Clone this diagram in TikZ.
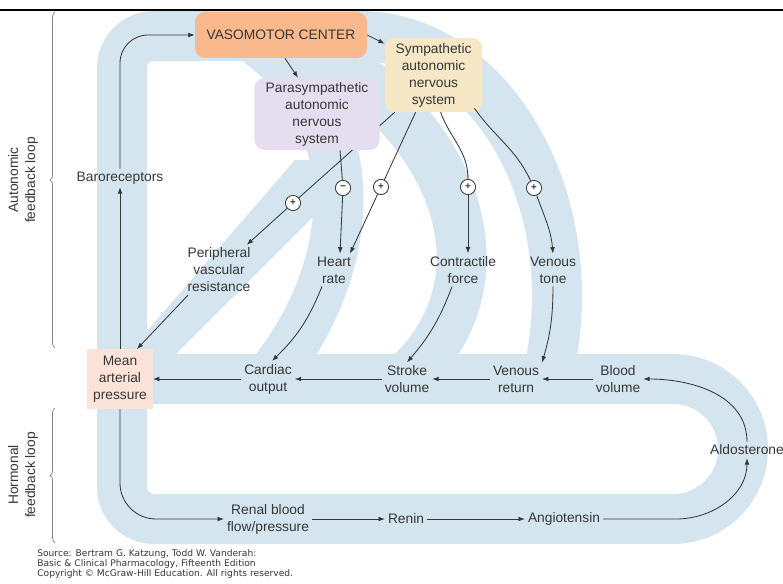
\documentclass[tikz,border=0pt]{standalone}
\usepackage{fontspec}
\setmainfont{Liberation Sans}
\newfontfamily\srcfont{DejaVu Sans}
\usepackage{tikz}
\usetikzlibrary{arrows.meta,positioning,calc,decorations.pathreplacing}

\definecolor{bandblue}{RGB}{212,229,240}
\definecolor{vasoorange}{RGB}{249,185,140}
\definecolor{symyellow}{RGB}{246,232,198}
\definecolor{paralilac}{RGB}{229,222,240}
\definecolor{mappink}{RGB}{252,227,218}
\definecolor{inkgray}{RGB}{55,55,55}

\pgfdeclarelayer{bands}
\pgfdeclarelayer{under}
\pgfsetlayers{bands,under,main}

\begin{document}
\begin{tikzpicture}[
    lbl/.style={align=center,font=\fontsize{9.8}{12.1}\selectfont,text=inkgray,inner sep=2pt},
    box/.style={lbl,rounded corners=2.5mm},
    sign/.style={circle,draw=inkgray,fill=white,line width=0.6pt,minimum size=3.8mm,inner sep=0pt,font=\scriptsize\bfseries,text=inkgray},
    band/.style={draw=bandblue,line width=1.25cm},
    link/.style={draw=inkgray,line width=0.6pt},
    arrow/.style={link,-{Latex[length=1.6mm,width=1.2mm]}},
    curly/.style={draw=gray,line width=0.5pt,decorate,decoration={brace,amplitude=1.2mm}}
]
    \useasboundingbox (0,0) rectangle (19.575,14.575);
    \draw[line width=1.2pt] (0,14.325) -- (19.575,14.325);

    % Control centers
    \node[box,fill=vasoorange,minimum width=4.3cm,minimum height=1.15cm] (vaso) at (7.025,13.7) {VASOMOTOR CENTER};
    \node[box,fill=symyellow,minimum width=2.43cm,minimum height=1.85cm] (sym) at (10.84,12.7) {Sympathetic\\autonomic\\nervous\\system};
    \node[box,fill=paralilac,minimum width=3.13cm,minimum height=1.8cm] (para) at (7.925,11.725) {Parasympathetic\\autonomic\\nervous\\system};

    % Effectors
    \node[lbl] (baro) at (3.0,10.125) {Baroreceptors};
    \node[lbl] (pvr) at (5.475,7.825) {Peripheral\\vascular\\resistance};
    \node[lbl] (hr) at (8.35,7.825) {Heart\\rate};
    \node[lbl] (cf) at (11.575,7.825) {Contractile\\force};
    \node[lbl] (vt) at (13.825,7.825) {Venous\\tone};

    % Middle row
    \node[box,fill=mappink,rounded corners=0pt,minimum width=1.63cm,minimum height=1.48cm] (map) at (3.0,5.1) {Mean\\arterial\\pressure};
    \node[lbl] (co) at (6.7,5.1) {Cardiac\\output};
    \node[lbl] (sv) at (10.175,5.1) {Stroke\\volume};
    \node[lbl] (vr) at (12.9,5.1) {Venous\\return};
    \node[lbl] (bv) at (15.45,5.1) {Blood\\volume};

    % Hormonal row
    \node[lbl] (ald) at (18.675,3.325) {Aldosterone};
    \node[lbl] (renal) at (6.7,1.6) {Renal blood\\flow/pressure};
    \node[lbl] (renin) at (10.15,1.6) {Renin};
    \node[lbl] (ang) at (14.1,1.6) {Angiotensin};

    % Signs
    \foreach \n/\x/\y/\s in {ppvr/7.325/9.5/+, mhr/8.575/9.875/−, phr/9.525/9.9/+, pcf/11.7/9.9/+, pvt/13.35/9.875/+} {
        \node[sign] (\n) at (\x,\y) {\s};
    }

    % Braces
    \draw[curly] (1.375,5.875) -- (1.375,14.275);
    \node[lbl,rotate=90] (auto) at (0.575,10.075) {Autonomic\\feedback loop};
    \draw[curly] (1.375,1.0) -- (1.375,4.375);
    \node[lbl,rotate=90] (horm) at (0.575,2.7) {Hormonal\\feedback loop};

    % Source
    \node[anchor=north west,align=left,inner sep=0pt,font=\srcfont\fontsize{6.5}{7.2}\selectfont,text=inkgray] (src) at (0.925,0.84) {Source: Bertram G. Katzung, Todd W. Vanderah:\\Basic \& Clinical Pharmacology, Fifteenth Edition\\Copyright © McGraw-Hill Education. All rights reserved.};

    % Blue bands
    \begin{pgfonlayer}{bands}
        \draw[band,rounded corners=0.8cm] (9.0,13.675) -- (3.05,13.675) -- (3.05,1.6) -- (16.9,1.6);
        \draw[band] (16.825,1.6) arc[start angle=-90,end angle=90,radius=1.75] -- (3.05,5.1);
        \draw[band] (9.0,13.675) arc[start angle=90,end angle=-18.6,x radius=4.925,y radius=6.5];
        \draw[band] (6.25,13.675) .. controls (9.375,11.575) and (8.875,7.7) .. (6.7,5.1);
        \draw[band] (7.125,13.675) .. controls (11.0,12.075) and (13.125,7.825) .. (10.125,5.1);
        \fill[bandblue] (3.05,5.575) -- (7.375,10.575) -- (8.625,10.575) -- (8.05,9.375) -- (4.2,5.525) -- cycle;
    \end{pgfonlayer}

    % Autonomic loop
    \draw[arrow] (map) -- (baro);
    \draw[arrow,rounded corners=0.7cm] (baro) |- (vaso);
    \draw[arrow] ([xshift=1mm]vaso.south) -- ([xshift=-4.75mm]para.north);
    \draw[arrow] (vaso.east) -- ([yshift=-1.5mm]sym.north west);
    \begin{pgfonlayer}{under}
        \draw[link] ([xshift=2.5mm]sym.south west) -- (ppvr);
    \end{pgfonlayer}
    \draw[arrow] (ppvr) -- (pvr);
    \draw[link] ([xshift=5.75mm]para.south) -- (mhr);
    \draw[arrow] (mhr) -- ([xshift=1.5mm]hr.north);
    \draw[link] ([xshift=-4.5mm]sym.south) -- (phr);
    \draw[arrow] (phr) -- ([xshift=4mm]hr.north);
    \draw[link] ([xshift=1.75mm]sym.south) to[out=-70,in=90] (pcf);
    \draw[arrow] (pcf) -- (pcf |- cf.north);
    \draw[link] ([xshift=-2mm,yshift=1mm]sym.south east) to[out=-55,in=115] (pvt);
    \draw[arrow] (pvt) to[out=-70,in=95] (vt.north);

    % Into the middle row
    \draw[arrow] ([xshift=-7.75mm]pvr.south) -- ([xshift=-4mm]map.north east);
    \draw[arrow] ([xshift=-3mm]hr.south) to[bend left=12] ([xshift=1mm]co.north);
    \draw[arrow] ([xshift=-2.75mm]cf.south) to[bend left=10] (sv.north);
    \draw[arrow] (vt.south) to[bend left=8] (vr.north east);
    \foreach \a/\b in {co/map, sv/co, vr/sv, bv/vr} { \draw[arrow] (\a) -- (\b); }

    % Hormonal loop
    \draw[arrow,rounded corners=0.9cm] (map) |- (renal);
    \foreach \a/\b in {renal/renin, renin/ang} { \draw[arrow] (\a) -- (\b); }
    \draw[arrow] (ang.east) -- ++(1.825,0) to[out=0,in=-90] (ald.south);
    \draw[arrow] (ald.north) to[out=90,in=0] (bv.east);
\end{tikzpicture}
\end{document}
